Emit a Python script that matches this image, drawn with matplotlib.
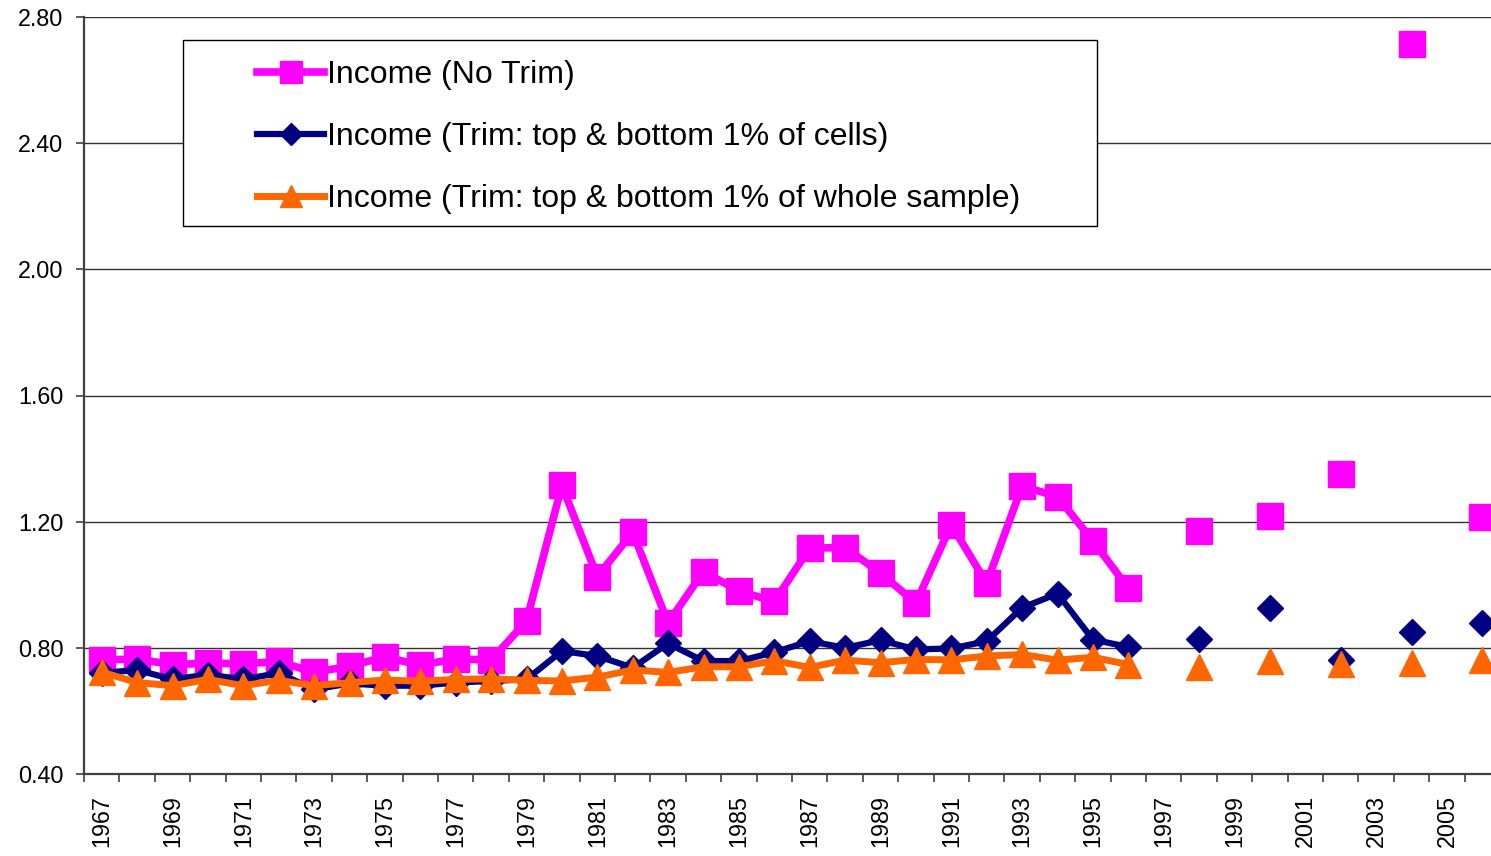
import numpy as np
import matplotlib
matplotlib.use("Agg")
import matplotlib.pyplot as plt
from matplotlib.patches import Rectangle
from matplotlib.ticker import FixedLocator, FuncFormatter

plt.rcParams['font.family'] = ['Liberation Sans', 'DejaVu Sans']

nan = np.nan
years = list(range(1967, 2007))

# Income (No Trim)
no_trim = [0.761, 0.765, 0.746, 0.752, 0.749, 0.757, 0.722, 0.742, 0.771, 0.745,
           0.765, 0.761, 0.885, 1.315, 1.026, 1.166, 0.879, 1.042, 0.980, 0.947,
           1.116, 1.118, 1.037, 0.942, 1.190, 1.005, 1.313, 1.279, 1.139, 0.989,
           nan, 1.169, nan, 1.217, nan, 1.352, nan, 2.714, nan, 1.216]
# Income (Trim: top & bottom 1% of cells)
trim_cells = [0.720, 0.730, 0.700, 0.715, 0.700, 0.720, 0.668, 0.687, 0.680, 0.680,
              0.690, 0.695, 0.700, 0.790, 0.774, 0.737, 0.814, 0.758, 0.758, 0.786,
              0.821, 0.800, 0.824, 0.795, 0.798, 0.821, 0.927, 0.972, 0.826, 0.803,
              nan, 0.828, nan, 0.927, nan, 0.761, nan, 0.850, nan, 0.879]
# Income (Trim: top & bottom 1% of whole sample)
trim_sample = [0.723, 0.690, 0.680, 0.700, 0.680, 0.697, 0.680, 0.690, 0.698, 0.694,
               0.700, 0.702, 0.697, 0.695, 0.707, 0.730, 0.722, 0.740, 0.740, 0.759,
               0.738, 0.761, 0.753, 0.763, 0.762, 0.774, 0.779, 0.761, 0.770, 0.747,
               nan, 0.738, nan, 0.759, nan, 0.748, nan, 0.753, nan, 0.762]

labels = ["Income (No Trim)",
          "Income (Trim: top & bottom 1% of cells)",
          "Income (Trim: top & bottom 1% of whole sample)"]

W, H = 1491, 856
fig = plt.figure(figsize=(W / 100, H / 100), dpi=100)
# plot area runs a little past the right edge of the picture, as in the original
ax = fig.add_axes([84 / W, (H - 774) / H, (1500 - 84) / W, (774 - 17) / H])

x = np.arange(len(years))
ax.plot(x, no_trim, color='#FF00FF', lw=5.5, marker='s', ms=18.5,
        mec='#FF00FF', label=labels[0])
ax.plot(x, trim_cells, color='#000080', lw=4.5, marker='D', ms=13,
        mec='#000080', label=labels[1])
ax.plot(x, trim_sample, color='#FF6600', lw=5, marker='^', ms=19,
        mec='#FF6600', label=labels[2])

ax.set_xlim(-0.5, len(years) - 0.5)
ax.set_ylim(0.4, 2.8)
ax.set_yticks(np.arange(0.4, 2.81, 0.4))
ax.yaxis.set_major_formatter(FuncFormatter(lambda v, p: "%.2f" % v))
ax.grid(axis='y', color='#303030', lw=1)
ax.set_axisbelow(True)

# labels on every other category, tick marks between categories
ax.xaxis.set_major_locator(FixedLocator(x[::2]))
ax.set_xticklabels([str(y) for y in years[::2]], rotation=90)
ax.xaxis.set_minor_locator(FixedLocator(np.arange(-0.5, len(years), 1.0)))
ax.tick_params(axis='x', which='major', length=0, pad=15, labelsize=16.8)
ax.tick_params(axis='x', which='minor', length=6, width=1.2, color='#404040')
ax.tick_params(axis='y', length=5.8, width=1.2, color='#404040', labelsize=16.8, pad=9)

for s in ['top', 'right']:
    ax.spines[s].set_visible(False)
for s in ['left', 'bottom']:
    ax.spines[s].set_color('#404040')
    ax.spines[s].set_linewidth(1.6)

# legend box
fig.patches.append(Rectangle((183 / W, 1 - 226 / H), (1097 - 183) / W, 186 / H,
                             transform=fig.transFigure, facecolor='white',
                             edgecolor='black', lw=1, zorder=5))
leg = fig.legend(loc='upper left', bbox_to_anchor=(257 / W, 1 - 60 / H),
                 frameon=False, fontsize=23, markerscale=0.85, handlelength=2.1,
                 handletextpad=0.1, labelspacing=1.0, borderpad=0, borderaxespad=0)
leg.set_zorder(6)

fig.savefig("out.png", dpi=100)
